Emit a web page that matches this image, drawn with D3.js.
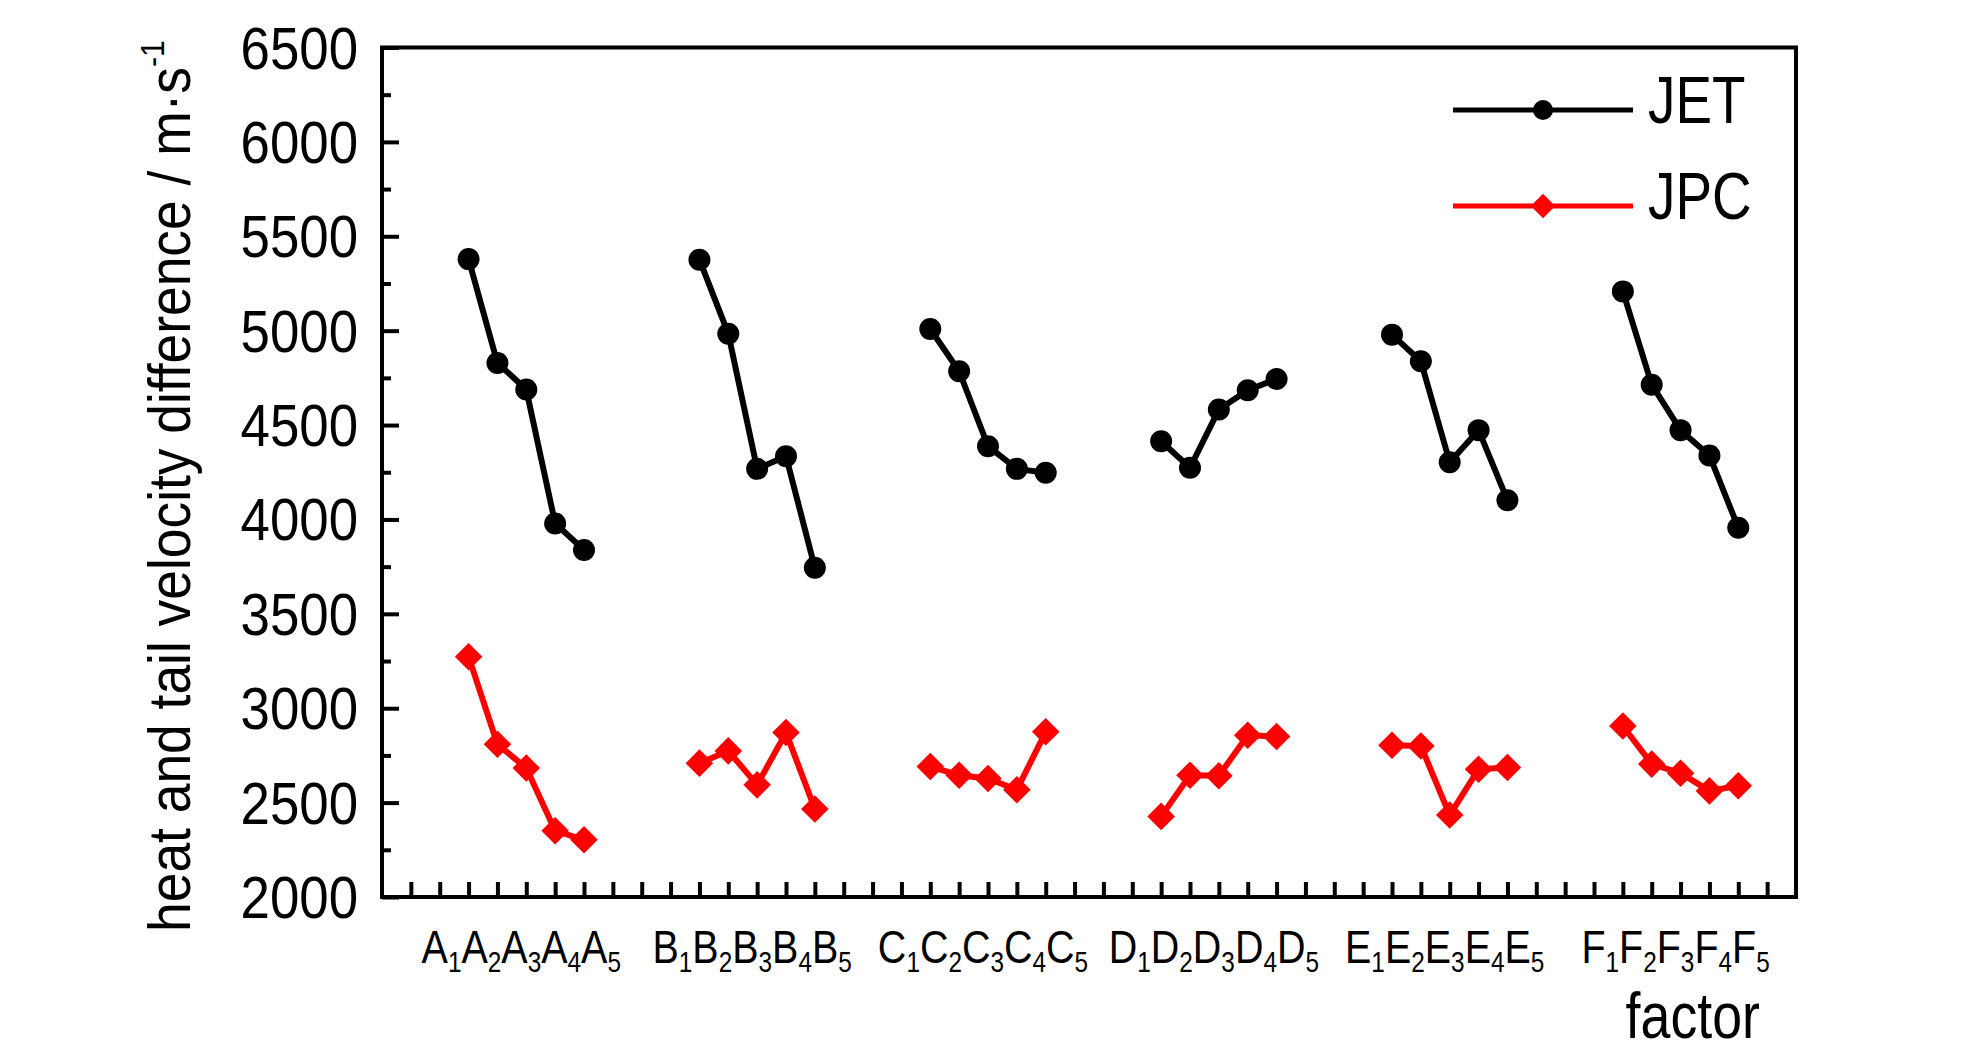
<!DOCTYPE html>
<html>
<head>
<meta charset="utf-8">
<script src="https://cdn.jsdelivr.net/npm/d3@7"></script>
<style>
  html, body { margin: 0; padding: 0; background: #fff; }
  svg { display: block; }
  text { font-family: "Liberation Sans", Arial, Helvetica, sans-serif; fill: #000; }
</style>
</head>
<body>
<svg id="chart" width="1984" height="1063"></svg>
<script>
// ---- data ----
const factors = ["A", "B", "C", "D", "E", "F"];
const levels = [1, 2, 3, 4, 5];
const jetValues = [
  [5379, 4829, 4688, 3979, 3838],
  [5376, 4984, 4268, 4335, 3744],
  [5009, 4785, 4388, 4268, 4247],
  [4414, 4274, 4582, 4684, 4744],
  [4979, 4838, 4303, 4473, 4102],
  [5208, 4714, 4473, 4339, 3956]
];
const jpcValues = [
  [3273, 2809, 2683, 2351, 2303],
  [2709, 2774, 2594, 2871, 2466],
  [2691, 2645, 2628, 2568, 2875],
  [2427, 2645, 2642, 2857, 2850],
  [2804, 2800, 2434, 2677, 2686],
  [2906, 2704, 2656, 2562, 2589]
];
const yTickValues = [2000, 2500, 3000, 3500, 4000, 4500, 5000, 5500, 6000, 6500];
const seriesNames = ["JET", "JPC"];
const yTitle = "heat and tail velocity difference / m·s";
const yTitleSup = "-1";
const xTitle = "factor";

// ---- layout ----
const L = 382, R = 1796, T = 47.5, B = 897;
const groupStep = 8, firstOffset = 2;
const xMax = 49;
const NARROW = 0.84;

const svg = d3.select("#chart");
const x = d3.scaleLinear().domain([0, xMax]).range([L, R]);
const y = d3.scaleLinear().domain([2000, 6500]).range([B, T]);

const pos = (g, i) => firstOffset + g * groupStep + levels[i];

// condensed text helper
function ctext(px, py, sx, size, anchor) {
  return svg.append("text")
    .attr("transform", `translate(${px},${py}) scale(${sx},1)`)
    .attr("text-anchor", anchor || "start")
    .attr("font-size", size);
}

// ---- axes ----
const yAxis = d3.axisLeft(y).tickValues(yTickValues).tickSize(-17).tickFormat("");
const gy = svg.append("g").attr("transform", `translate(${L},0)`).call(yAxis);
gy.select(".domain").remove();
gy.selectAll(".tick line").attr("stroke", "#000").attr("stroke-width", 4);

yTickValues.forEach(v => {
  ctext(L - 24, y(v) + 21, 0.88, 60, "end").text(d3.format("d")(v));
});

const minor = d3.range(2250, 6500, 500);
const yMinor = d3.axisLeft(y).tickValues(minor).tickSize(-9).tickFormat("");
const gym = svg.append("g").attr("transform", `translate(${L},0)`).call(yMinor);
gym.select(".domain").remove();
gym.selectAll(".tick line").attr("stroke", "#000").attr("stroke-width", 4);

const xAxis = d3.axisBottom(x).tickValues(d3.range(1, xMax)).tickSize(-15).tickFormat("");
const gx = svg.append("g").attr("transform", `translate(0,${B})`).call(xAxis);
gx.select(".domain").remove();
gx.selectAll(".tick line").attr("stroke", "#000").attr("stroke-width", 4);

svg.append("rect").attr("x", L).attr("y", T).attr("width", R - L).attr("height", B - T)
  .attr("fill", "none").attr("stroke", "#000").attr("stroke-width", 4);

// x group labels with subscripts
factors.forEach((f, g) => {
  const cx = x(pos(g, 2)) - 5;
  const t = ctext(cx, 963, NARROW, 47, "middle");
  levels.forEach((l, i) => {
    t.append("tspan").attr("dy", i === 0 ? 0 : -9).text(f);
    t.append("tspan").attr("font-size", 29).attr("dy", 9).text(l);
  });
});

// x title
ctext(R - 36, 1038, 0.84, 64, "end").text(xTitle);

// y title
const yt = svg.append("text").attr("text-anchor", "middle").attr("font-size", 60);
yt.append("tspan").text(yTitle);
yt.append("tspan").attr("font-size", 34).attr("dy", -26).text(yTitleSup);
const tw = yt.node().getBBox().width;
const ys = 892 / tw;
yt.attr("transform", `translate(190,486) rotate(-90) scale(${ys},1)`);

// ---- series ----
const line = d3.line().x(d => x(d.p)).y(d => y(d.v));
const toPts = (vals, g) => vals.map((v, i) => ({ p: pos(g, i), v }));

const colors = ["#000000", "#ff0000"];
[jetValues, jpcValues].forEach((series, s) => {
  series.forEach((vals, g) => {
    const pts = toPts(vals, g);
    svg.append("path").datum(pts).attr("d", line).attr("fill", "none")
      .attr("stroke", colors[s]).attr("stroke-width", 6).attr("stroke-linejoin", "round");
    if (s === 0) {
      svg.selectAll(null).data(pts).enter().append("circle")
        .attr("cx", d => x(d.p)).attr("cy", d => y(d.v)).attr("r", 11).attr("fill", colors[s]);
    } else {
      const sym = d3.symbol().type(d3.symbolSquare).size(380);
      svg.selectAll(null).data(pts).enter().append("path")
        .attr("d", sym).attr("fill", colors[s])
        .attr("transform", d => `translate(${x(d.p)},${y(d.v)}) rotate(45)`);
    }
  });
});

// ---- legend ----
const legY = [110, 206];
seriesNames.forEach((name, s) => {
  svg.append("line").attr("x1", 1453).attr("x2", 1633).attr("y1", legY[s]).attr("y2", legY[s])
    .attr("stroke", colors[s]).attr("stroke-width", 5);
  if (s === 0) {
    svg.append("circle").attr("cx", 1543).attr("cy", legY[s]).attr("r", 10).attr("fill", colors[s]);
  } else {
    svg.append("path").attr("d", d3.symbol().type(d3.symbolSquare).size(300))
      .attr("transform", `translate(1543,${legY[s]}) rotate(45)`).attr("fill", colors[s]);
  }
  ctext(1648, legY[s] + 13, 0.83, 66, "start").text(name);
});
</script>
</body>
</html>
